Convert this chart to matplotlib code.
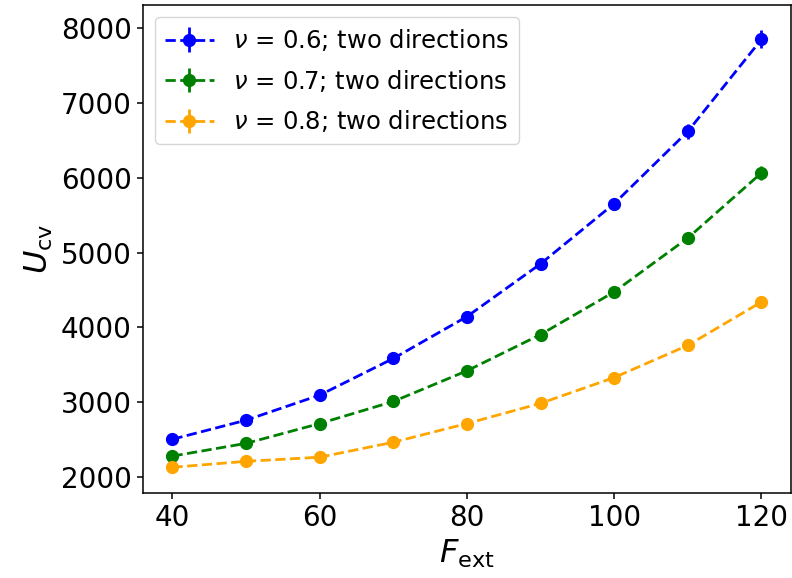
import matplotlib
matplotlib.use("Agg")
import matplotlib.pyplot as plt
import numpy as np

F_ext = [40, 50, 60, 70, 80, 90, 100, 110, 120]
u_nu06 = [2505, 2760, 3095, 3585, 4145, 4850, 5655, 6620, 7850]
u_nu07 = [2280, 2450, 2715, 3010, 3420, 3905, 4475, 5195, 6065]
u_nu08 = [2130, 2210, 2265, 2465, 2715, 2985, 3330, 3760, 4340]
err_nu06 = [40, 40, 45, 50, 55, 60, 70, 100, 120]
err_nu07 = [35, 35, 40, 45, 50, 55, 60, 70, 90]
err_nu08 = [30, 30, 35, 40, 40, 45, 50, 55, 60]
labels = [r"$\nu$ = 0.6; two directions",
          r"$\nu$ = 0.7; two directions",
          r"$\nu$ = 0.8; two directions"]
colors = ["blue", "green", "orange"]

fig = plt.figure(figsize=(7.92, 5.78), dpi=100)
ax = fig.add_axes([0.1806, 0.147, 0.818, 0.844])

for y, e, lab, c in zip([u_nu06, u_nu07, u_nu08], [err_nu06, err_nu07, err_nu08], labels, colors):
    ax.errorbar(F_ext, y, yerr=e, fmt="o--", color=c, label=lab, markersize=8.5, linewidth=2.0)

ax.set_xlabel(r"$F_{\mathrm{ext}}$", fontsize=23)
ax.set_ylabel(r"$U_{\mathrm{cv}}$", fontsize=23)
ax.tick_params(labelsize=20, length=4.5, width=1.1)
for s in ax.spines.values():
    s.set_linewidth(1.1)
ax.set_xticks([40, 60, 80, 100, 120])
ax.set_yticks([2000, 3000, 4000, 5000, 6000, 7000, 8000])
ax.set_xlim(36, 124)
ax.set_ylim(1786, 8307)
ax.legend(loc="upper left", fontsize=17.5, labelspacing=0.6)

fig.savefig("out.png", dpi=100)
